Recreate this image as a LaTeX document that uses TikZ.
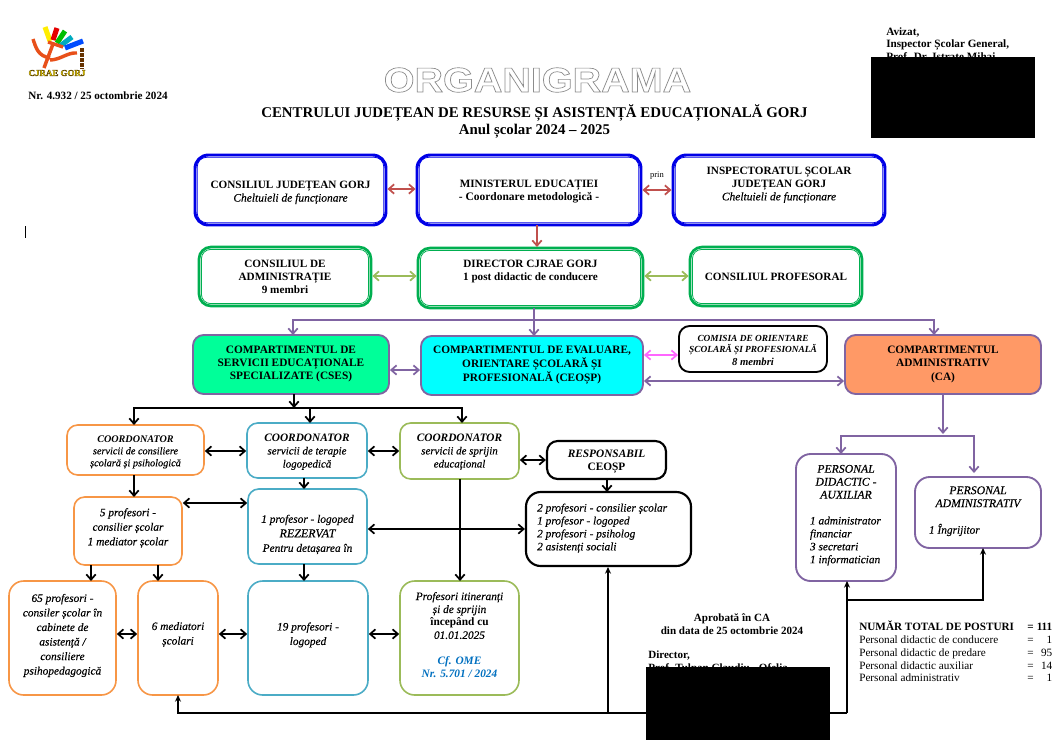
\documentclass[tikz,border=0pt]{standalone}
\usepackage{fontspec}
\setmainfont{Liberation Serif}[ItalicFeatures={FakeBold=0.2}]
\newfontfamily\hfont{Liberation Sans}
\usetikzlibrary{arrows.meta,calc}
\definecolor{cblue}{HTML}{0000E6}
\definecolor{cgreen}{HTML}{00AF50}
\definecolor{cpurple}{HTML}{8064A2}
\definecolor{cred}{HTML}{C0504D}
\definecolor{colive}{HTML}{9BBB59}
\definecolor{corange}{HTML}{F79646}
\definecolor{cteal}{HTML}{4BACC6}
\definecolor{cpink}{HTML}{FF66FF}
\definecolor{cmint}{HTML}{00FF99}
\definecolor{ccyan}{HTML}{00FFFF}
\definecolor{cfill}{HTML}{FF9966}
\definecolor{ctext}{HTML}{0070C0}
\definecolor{logor}{HTML}{E8501A}
\newcommand{\bxx}[8][]{%
  \pgfmathsetmacro{\bw}{(#5-#3)*0.75}\pgfmathsetmacro{\bh}{(#6-#4)*0.75}%
  \node[boxbase,#1,minimum width=\bw pt,minimum height=\bh pt] (#2) at ({(#3+#5)/2},{(#4+#6)/2}) {\raisebox{#7pt}[0pt][0pt]{\begin{tabular}{@{}c@{}}#8\end{tabular}}};}
\newcommand{\innerb}[2]{%
  \draw[#2,line width=0.6pt,rounded corners=7pt] ($(#1.south west)+(2.8pt,2.8pt)$) rectangle ($(#1.north east)+(-2.8pt,-2.8pt)$);}
\newcommand{\smA}[1]{{\fontsize{7.7pt}{9pt}\selectfont #1}}
\newcommand{\smB}[1]{{\fontsize{8.2pt}{9.8pt}\selectfont #1}}
\newcommand{\chelt}[1]{{\fontsize{8.6pt}{9.7pt}\selectfont\normalfont\itshape #1}}
\newcommand{\lft}[2]{\makebox[#1][l]{#2}}
\tikzset{
  x=0.75pt,y=-0.75pt,
  boxbase/.style={shape=rectangle,inner sep=0pt,font=\fontsize{8.4pt}{9.7pt}\selectfont,text=black},
  dblue/.style={draw=cblue,line width=2.2pt,rounded corners=10pt,font=\fontsize{8.4pt}{9.7pt}\selectfont\bfseries},
  dgreen/.style={draw=cgreen,line width=2pt,rounded corners=9pt,font=\fontsize{8.4pt}{9.7pt}\selectfont\bfseries},
  comp/.style={draw=cpurple,line width=1.4pt,rounded corners=8pt,font=\fontsize{8.5pt}{9.8pt}\selectfont\bfseries},
  rbox/.style={line width=1.2pt,rounded corners=8pt,font=\fontsize{8.5pt}{10.9pt}\selectfont\itshape},
  tight/.style={font=\fontsize{8.5pt}{9.7pt}\selectfont\itshape},
  ror/.style={rbox,draw=corange},
  rte/.style={rbox,draw=cteal},
  rol/.style={rbox,draw=colive},
  rbl/.style={rbox,draw=black},
  rpu/.style={rbox,draw=cpurple,line width=1.4pt},
  big/.style={rounded corners=11pt},
  lnk/.style={line width=1.5pt},
  clnk/.style={line width=1.9pt},
  dtip/.style={{Straight Barb[length=4pt,width=7pt,line width=1.3pt]}-{Straight Barb[length=4pt,width=7pt,line width=1.3pt]}},
  stip/.style={-{Straight Barb[length=4pt,width=7pt,line width=1.3pt]}},
  ftip/.style={line width=1.4pt,-{Stealth[length=5pt,width=4.5pt]}},
  plain/.style={inner sep=0pt,align=center,text=black},
  redact/.style={fill=black,draw=none},
  pencil/.style={line width=3.8pt},
  psi/.style={draw=logor,line width=2.6pt},
}
\begin{document}
\begin{tikzpicture}
\useasboundingbox (0,0) rectangle (1060,751);
\fill[white] (0,0) rectangle (1060,751);

% logo
\draw[pencil,yellow!95!orange] (45,27) -- (50,41);
\draw[pencil,red!90!black] (57,28) -- (53,40);
\draw[pencil,green!75!black] (65,31) -- (57,43);
\draw[pencil,cyan!70!green] (72,37) -- (60,46);
\draw[pencil,blue!70!cyan] (83,41) -- (65,48);
\draw[psi] (48,42) -- (63,47);
\draw[psi] (33,39) .. controls (36,48) and (38,56) .. (50,58);
\draw[psi] (50,60) .. controls (60,60) and (68,52) .. (77,53);
\draw[psi] (53,44) -- (44,68);
\draw[black!60!orange,line width=2.6pt,dash pattern=on 3pt off 0.8pt] (82,48) -- (82,69);
\node[plain,text=yellow!90!orange,font=\fontsize{6.7pt}{7pt}\selectfont\bfseries] (logotxt) at (57,73) {\special{pdf:code q 2 Tr 0.25 w 0.35 0.25 0 RG}CJRAE GORJ\special{pdf:code 0 Tr Q}};

\node[plain,font=\fontsize{8.35pt}{9pt}\selectfont\bfseries] (nr) at (98,96) {Nr. 4.932 / 25 octombrie 2024};
\draw[black,line width=0.7pt] (25,226) -- (25,238);

% title
\node[plain] (title) at (537.5,80) {\hfont\bfseries\fontsize{26pt}{26pt}\selectfont\special{pdf:code q 1 Tr 0.5 w 0.55 G}\scalebox{1.14}[1]{ORGANIGRAMA}\special{pdf:code 0 Tr Q}};
\node[plain,font=\fontsize{11.15pt}{12.8pt}\selectfont\bfseries] (sub) at (534.5,121) {CENTRULUI JUDEȚEAN DE RESURSE ȘI ASISTENȚĂ EDUCAȚIONALĂ GORJ\\Anul școlar 2024 – 2025};

% signature top
\node[plain,anchor=north west,align=left,font=\fontsize{8.4pt}{9.5pt}\selectfont\bfseries] (avizat) at (886,27) {Avizat,\\Inspector Școlar General,\\Prof. Dr. Istrate Mihai};
\fill[redact] (871,57) rectangle (1035,138);

% row 1
\bxx[dblue]{cj}{195}{155}{386}{225}{-3.9}{CONSILIUL JUDEȚEAN GORJ\\\chelt{Cheltuieli de funcționare}}
\bxx[dblue]{me}{417}{155}{641}{225}{-3.4}{MINISTERUL EDUCAȚIEI\\{\fontsize{8.6pt}{9.7pt}\selectfont - Coordonare metodologică -}}
\bxx[dblue]{isj}{673}{155}{885}{225}{1.9}{INSPECTORATUL ȘCOLAR\\JUDEȚEAN GORJ\\\chelt{Cheltuieli de funcționare}}
\innerb{cj}{cblue}\innerb{me}{cblue}\innerb{isj}{cblue}
\node[plain,font=\fontsize{6.4pt}{7pt}\selectfont] (prin) at (657,176) {prin};

% row 2
\bxx[dgreen]{ca}{199}{247}{371}{306}{-3}{CONSILIUL DE\\ADMINISTRAȚIE\\9 membri}
\bxx[dgreen]{dir}{418}{248}{643}{308}{3}{DIRECTOR CJRAE GORJ\\1 post didactic de conducere}
\bxx[dgreen]{cp}{690}{247}{862}{306}{-3}{CONSILIUL PROFESORAL}
\innerb{ca}{cgreen}\innerb{dir}{cgreen}\innerb{cp}{cgreen}

% row 3
\bxx[comp,fill=cmint]{cses}{193}{335}{389}{394}{-1.5}{COMPARTIMENTUL DE\\SERVICII EDUCAȚIONALE\\SPECIALIZATE (CSES)}
\bxx[comp,fill=ccyan]{ceosp}{421}{336}{643}{395}{-1.5}{COMPARTIMENTUL DE EVALUARE,\\ORIENTARE ȘCOLARĂ ȘI\\PROFESIONALĂ (CEOȘP)}
\bxx[rbl,line width=1.4pt,font=\fontsize{7pt}{7.8pt}\selectfont\itshape\bfseries]{com}{679}{326}{827}{372}{-3.4}{COMISIA DE ORIENTARE\\ȘCOLARĂ ȘI PROFESIONALĂ\\[2pt]{\fontsize{8pt}{8pt}\selectfont 8 membri}}
\bxx[comp,fill=cfill]{adm}{845}{335}{1041}{394}{-1.9}{COMPARTIMENTUL\\ADMINISTRATIV\\(CA)}

% row 4
\bxx[ror,font=\fontsize{7.6pt}{9pt}\selectfont\itshape]{c1}{67}{425}{204}{475}{-3.4}{{\bfseries COORDONATOR}\\\smA{servicii de consiliere}\\\smA{școlară și psihologică}}
\bxx[rte,font=\fontsize{8.5pt}{9.8pt}\selectfont\itshape]{c2}{247}{423}{367}{478}{-3}{{\bfseries COORDONATOR}\\\smB{servicii de terapie}\\\smB{logopedică}}
\bxx[rol,font=\fontsize{8.5pt}{9.8pt}\selectfont\itshape]{c3}{400}{423}{519}{479}{-2.6}{{\bfseries COORDONATOR}\\\smB{servicii de sprijin}\\\smB{educațional}}
\bxx[rbl,line width=1.6pt,font=\fontsize{8.5pt}{9.8pt}\selectfont\bfseries]{resp}{547}{441}{666}{479}{-3}{{\itshape RESPONSABIL}\\CEOȘP}

% row 5
\bxx[ror]{p5}{74}{497}{182}{565}{0.4}{5 profesori -\\consilier școlar\\1 mediator școlar}
\bxx[rte]{l1}{248}{489}{367}{564}{-7.9}{1 profesor - logoped\\{\fontsize{9pt}{10pt}\selectfont REZERVAT}\\Pentru detașarea în}
\bxx[rbl,tight,line width=1.6pt,big]{r}{526}{492}{691}{566}{-1.5}{\lft{107pt}{2 profesori - consilier școlar}\\\lft{107pt}{1 profesor - logoped}\\\lft{107pt}{2 profesori - psiholog}\\\lft{107pt}{2 asistenți sociali}}

% row 6
\bxx[ror,big]{p65}{9}{581}{116}{695}{0}{65 profesori -\\consiler școlar în\\cabinete de\\asistență /\\consiliere\\psihopedagogică}
\bxx[ror,big]{med}{138}{581}{218}{695}{0.75}{6 mediatori\\școlari}
\bxx[rte,big]{l19}{248}{581}{368}{695}{0.4}{19 profesori -\\logoped}
\bxx[rol,tight,big]{it}{400}{581}{519}{695}{-0.75}{Profesori itineranți\\și de sprijin\\{\upshape\bfseries începând cu}\\01.01.2025\\[9.8pt]{\color{ctext}\bfseries Cf. OME}\\{\color{ctext}\bfseries Nr. 5.701 / 2024}}

% right
\bxx[rpu,tight,big]{pda}{796}{454}{896}{581}{-0.4}{{\fontsize{8.8pt}{9.7pt}\selectfont PERSONAL}\\{\fontsize{8.8pt}{9.7pt}\selectfont DIDACTIC -}\\{\fontsize{8.8pt}{9.7pt}\selectfont AUXILIAR}\\[9.7pt]\lft{54pt}{1 administrator}\\\lft{54pt}{financiar}\\\lft{54pt}{3 secretari}\\\lft{54pt}{1 informatician}}
\bxx[rpu,tight,big]{pa}{915}{477}{1041}{548}{-1.1}{{\fontsize{8.8pt}{9.7pt}\selectfont PERSONAL}\\{\fontsize{8.8pt}{9.7pt}\selectfont ADMINISTRATIV}\\[9.7pt]\lft{73.5pt}{1 Îngrijitor}}

% connectors row 1-2
\coordinate (mdown) at (537,225);
\coordinate (dirup) at (537,247);
\draw[clnk,dtip,cred] (cj.east|-0,189) -- (me.west|-0,189);
\draw[clnk,dtip,cred] (me.east|-0,190) -- (isj.west|-0,190);
\draw[clnk,stip,cred] (mdown) -- (dirup);
\draw[clnk,dtip,colive] (ca.east|-0,276) -- (dir.west|-0,276);
\draw[clnk,dtip,colive] (dir.east|-0,276) -- (cp.west|-0,276);

% purple
\coordinate (pj) at (534,320);
\draw[clnk,stip,cpurple] (534,308) -- (534,336);
\draw[clnk,stip,cpurple] (pj) -- (293,320) -- (293,335);
\draw[clnk,stip,cpurple] (pj) -- (934,320) -- (934,335);
\draw[clnk,dtip,cpurple] (cses.east|-0,370) -- (ceosp.west|-0,370);
\draw[clnk,dtip,cpink] (ceosp.east|-0,355) -- (com.west|-0,355);
\draw[clnk,dtip,cpurple] (ceosp.east|-0,381) -- (adm.west|-0,381);
\draw[clnk,stip,cpurple] (943,394) -- (943,434);
\coordinate (aj) at (943,436);
\draw[clnk,stip,cpurple] (aj) -- (841,436) -- (841,454);
\draw[clnk,stip,cpurple] (aj) -- (974,436) -- (974,473);

% black top bus
\coordinate (bj) at (294,408);
\draw[lnk,stip] (294,394) -- (bj);
\draw[lnk,stip] (bj) -- (134,408) -- (134,425);
\draw[lnk,stip] (310,408) -- (310,423);
\draw[lnk,stip] (bj) -- (462,408) -- (462,423);
\draw[lnk,dtip] (c1.east|-0,451) -- (c2.west|-0,451);
\draw[lnk,dtip] (c2.east|-0,451) -- (c3.west|-0,451);
\draw[lnk,dtip] (c3.east|-0,460) -- (resp.west|-0,460);
\draw[lnk,stip] (134,475) -- (134,497);
\draw[lnk,stip] (304,478) -- (304,489);
\draw[lnk,stip] (304,564) -- (304,581);
\draw[lnk,stip] (460,479) -- (460,581);
\draw[lnk,dtip] (p5.east|-0,503) -- (l1.west|-0,503);
\draw[lnk,dtip] (l1.east|-0,529) -- (r.west|-0,529);
\draw[lnk,stip] (91,565) -- (91,581);
\draw[lnk,stip] (158,565) -- (158,581);
\draw[lnk,dtip] (p65.east|-0,634) -- (med.west|-0,634);
\draw[lnk,dtip] (med.east|-0,634) -- (l19.west|-0,634);
\draw[lnk,dtip] (l19.east|-0,634) -- (it.west|-0,634);
\draw[lnk,stip] (607,479) -- (607,492);

% bottom bus
\coordinate (bb) at (608,713);
\draw[ftip] (847,713) -- (178,713) -- (178,695);
\draw[ftip] (bb) -- (608,567);
\draw[ftip] (847,713) -- (847,581);
\draw[ftip] (847,600) -- (983,600) -- (983,548);

% approval
\node[plain,font=\fontsize{8.3pt}{9.7pt}\selectfont\bfseries] (apr) at (732,624) {Aprobată în CA\\din data de 25 octombrie 2024};
\node[plain,anchor=north west,align=left,font=\fontsize{8.3pt}{9.4pt}\selectfont\bfseries] (dr) at (648,651) {Director,\\Prof. Tulpan Claudiu - Ofelia};
\fill[redact] (646,667) rectangle (830,740);

% totals
\node[plain,anchor=west,font=\fontsize{8.4pt}{9.6pt}\selectfont] (tot) at (859,653.4) {\begin{tabular}{@{}p{126pt}@{}l@{}p{14pt}@{}}
{\bfseries NUMĂR TOTAL DE POSTURI} & {\bfseries =} & \hfill{\bfseries 111}\\
Personal didactic de conducere & = & \hfill 1\\
Personal didactic de predare & = & \hfill 95\\
Personal didactic auxiliar & = & \hfill 14\\
Personal administrativ & = & \hfill 1
\end{tabular}};
\end{tikzpicture}
\end{document}
